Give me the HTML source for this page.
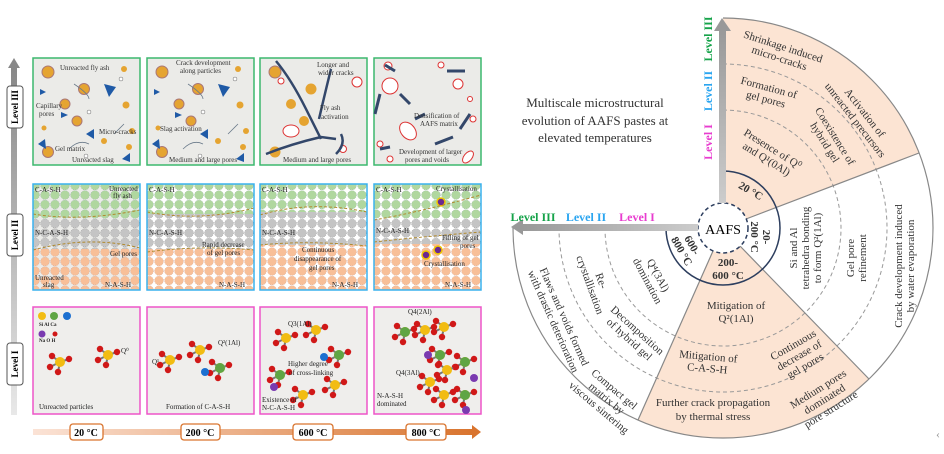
<!DOCTYPE html>
<html><head><meta charset="utf-8"><style>
html,body{margin:0;padding:0;background:#fff;}
svg{display:block;font-family:"Liberation Serif",serif;}
</style></head><body>
<svg width="944" height="454" viewBox="0 0 944 454" xmlns="http://www.w3.org/2000/svg">
<defs>
<pattern id="pg" width="10" height="9.5" patternUnits="userSpaceOnUse"><circle cx="5" cy="5" r="4.4" fill="#b0d79f" stroke="#8a9" stroke-width="0.5" stroke-dasharray="1 1"/></pattern>
<pattern id="pr" width="10" height="9.5" patternUnits="userSpaceOnUse"><circle cx="5" cy="5" r="4.4" fill="#c4c4c4" stroke="#888" stroke-width="0.5" stroke-dasharray="1 1"/></pattern>
<pattern id="po" width="10" height="9.5" patternUnits="userSpaceOnUse"><circle cx="5" cy="5" r="4.4" fill="#f8bf98" stroke="#c98" stroke-width="0.5" stroke-dasharray="1 1"/></pattern>
<linearGradient id="tb" x1="0" x2="1"><stop offset="0" stop-color="#fbe3d6"/><stop offset="1" stop-color="#d9742e"/></linearGradient>
<linearGradient id="va" x1="0" y1="1" x2="0" y2="0"><stop offset="0" stop-color="#e8e8e8"/><stop offset="1" stop-color="#888"/></linearGradient>
<linearGradient id="ua" x1="0" y1="1" x2="0" y2="0"><stop offset="0" stop-color="#ccc"/><stop offset="1" stop-color="#999"/></linearGradient>
<linearGradient id="la" x1="1" x2="0"><stop offset="0" stop-color="#ccc"/><stop offset="1" stop-color="#999"/></linearGradient>
<g id="l3">
<circle cx="14" cy="13" r="6" fill="#e5a431" stroke="#a77"/>
<circle cx="50" cy="30" r="5.5" fill="#e5a431" stroke="#a77"/>
<circle cx="31" cy="45" r="5" fill="#e5a431" stroke="#a77"/>
<circle cx="43" cy="62" r="5" fill="#e5a431" stroke="#a77"/>
<circle cx="14" cy="93" r="5.5" fill="#e5a431" stroke="#a77"/>
<circle cx="90" cy="10" r="3" fill="#e5a431"/><circle cx="92" cy="46" r="3.5" fill="#e5a431"/>
<circle cx="98" cy="72" r="3" fill="#e5a431"/><circle cx="95" cy="88" r="3" fill="#e5a431"/>
<circle cx="10" cy="69" r="2.5" fill="#e5a431"/><circle cx="70" cy="82" r="3" fill="#e5a431"/>
<polygon points="70,25 82,28 75,38" fill="#1f5aa6"/><polygon points="52,75 60,70 60,80" fill="#1f5aa6"/>
<polygon points="27,53 34,56 27,59" fill="#1f5aa6"/><polygon points="4,85 11,80 12,90" fill="#1f5aa6"/>
<polygon points="88,100 96,94 96,103" fill="#1f5aa6"/><polygon points="6,30 12,33 6,36" fill="#1f5aa6"/>
<circle cx="87" cy="20" r="2" fill="#fff" stroke="#666" stroke-width=".5"/><circle cx="55" cy="53" r="2" fill="#fff" stroke="#666" stroke-width=".5"/>
<circle cx="52" cy="97" r="2" fill="#fff" stroke="#666" stroke-width=".5"/>
<path d="M40,25 Q55,35 55,40 M35,90 Q45,80 55,85 M80,75 Q85,70 90,65" stroke="#6a7a8a" stroke-width=".8" fill="none"/>
</g>
<g id="mol">
<line x1="0" y1="0" x2="-8" y2="-6" stroke="#777" stroke-width="2"/><line x1="0" y1="0" x2="9" y2="-3" stroke="#777" stroke-width="2"/>
<line x1="0" y1="0" x2="-2" y2="10" stroke="#777" stroke-width="2"/><line x1="0" y1="0" x2="-10" y2="5" stroke="#777" stroke-width="2"/>
<circle cx="-8" cy="-6" r="3.2" fill="#d01818"/><circle cx="9" cy="-3" r="3.2" fill="#d01818"/>
<circle cx="-2" cy="10" r="3.2" fill="#d01818"/><circle cx="-10" cy="5" r="3.2" fill="#d01818"/>
<circle cx="0" cy="0" r="5" fill="#f2bc12"/>
</g>
<g id="molg"><use href="#mol"/><circle cx="0" cy="0" r="5" fill="#5fa544"/></g>
</defs>

<rect x="11" y="68" width="6" height="347" fill="url(#va)"/>
<polygon points="8,68 14,58 20,68" fill="#888"/>
<g font-size="9" font-weight="bold">
<rect x="7" y="86" width="16" height="42" rx="3" fill="#fff" stroke="#555"/>
<text transform="translate(18,107) rotate(-90)" text-anchor="middle">Level III</text>
<rect x="7" y="214" width="16" height="42" rx="3" fill="#fff" stroke="#555"/>
<text transform="translate(18,235) rotate(-90)" text-anchor="middle">Level II</text>
<rect x="7" y="343" width="16" height="42" rx="3" fill="#fff" stroke="#555"/>
<text transform="translate(18,364) rotate(-90)" text-anchor="middle">Level I</text>
</g>

<g stroke="#3cb86e" stroke-width="1.5" fill="#ebebe8">
<rect x="33" y="58" width="107" height="107"/><rect x="147" y="58" width="107" height="107"/>
<rect x="260" y="58" width="107" height="107"/><rect x="374" y="58" width="107" height="107"/>
</g>
<use href="#l3" x="34" y="59"/><use href="#l3" x="148" y="59"/>
<g transform="translate(261,59)">
<circle cx="14" cy="13" r="6" fill="#e5a431" stroke="#a77"/><circle cx="50" cy="30" r="5.5" fill="#e5a431"/>
<circle cx="43" cy="62" r="5" fill="#e5a431"/><circle cx="14" cy="93" r="5.5" fill="#e5a431"/><circle cx="30" cy="45" r="5" fill="#e5a431"/>
<ellipse cx="30" cy="72" rx="8" ry="6" fill="#fff" stroke="#d33"/><circle cx="96" cy="23" r="5" fill="#fff" stroke="#d33"/>
<circle cx="20" cy="22" r="3" fill="#fff" stroke="#d33"/><circle cx="82" cy="90" r="3.5" fill="#fff" stroke="#d33"/>
<path d="M15,2 Q30,20 45,50 T60,80 M5,95 Q30,85 60,78 L75,80 M70,10 Q65,30 58,60 M80,75 Q85,85 75,95" stroke="#33476a" stroke-width="2.5" fill="none"/>
</g>
<g transform="translate(375,59)" fill="#fff" stroke="#d33">
<circle cx="13" cy="7" r="4"/><circle cx="15" cy="27" r="8"/><circle cx="83" cy="25" r="5"/><circle cx="66" cy="6" r="3"/>
<ellipse cx="33" cy="72" rx="7" ry="10" transform="rotate(-40 33 72)"/><ellipse cx="93" cy="98" rx="4" ry="7" transform="rotate(40 93 98)"/>
<circle cx="5" cy="85" r="3"/><circle cx="15" cy="100" r="3"/><circle cx="98" cy="60" r="3"/><circle cx="95" cy="40" r="2.5"/>
<path d="M5,35 L0,55 M25,35 L35,45 M40,60 L50,55 M60,85 L78,78 M5,90 L15,88 M10,6 L20,12 M72,12 L90,12 M85,70 L95,55" stroke="#33476a" stroke-width="3" fill="none"/>
</g>
<g font-size="7" fill="#333">
<text x="60" y="70">Unreacted fly ash</text><text x="36" y="108">Capillary</text><text x="39" y="116">pores</text>
<text x="99" y="134">Micro-cracks</text><text x="55" y="151">Gel matrix</text><text x="72" y="162">Unreacted slag</text>
<text x="176" y="65">Crack development</text><text x="180" y="73">along particles</text>
<text x="160" y="131">Slag activation</text><text x="169" y="162">Medium and large pores</text>
<text x="317" y="67">Longer and</text><text x="318" y="75">wider cracks</text>
<text x="320" y="110">Fly ash</text><text x="321" y="119">activation</text><text x="283" y="162">Medium and large pores</text>
<text x="414" y="118">Densification of</text><text x="420" y="126">AAFS matrix</text>
<text x="399" y="154">Development of larger</text><text x="405" y="162">pores and voids</text>
</g>

<rect x="33" y="184" width="107" height="106" fill="#ebebe8"/>
<g>
<rect x="33" y="184" width="107" height="35" fill="url(#pg)"/>
<rect x="33" y="219" width="107" height="30" fill="url(#pr)"/>
<rect x="33" y="249" width="107" height="41" fill="url(#po)"/>
</g>
<g transform="translate(114,0)"><rect x="33" y="184" width="107" height="30" fill="url(#pg)"/><rect x="33" y="214" width="107" height="35" fill="url(#pr)"/><rect x="33" y="249" width="107" height="41" fill="url(#po)"/></g>
<g transform="translate(227,0)"><rect x="33" y="184" width="107" height="28" fill="url(#pg)"/><rect x="33" y="212" width="107" height="33" fill="url(#pr)"/><rect x="33" y="245" width="107" height="45" fill="url(#po)"/></g>
<g transform="translate(341,0)"><rect x="33" y="184" width="107" height="35" fill="url(#pg)"/><rect x="33" y="219" width="107" height="25" fill="url(#pr)"/><rect x="33" y="244" width="107" height="46" fill="url(#po)"/>
<circle cx="100" cy="202" r="4" fill="#6b2a8f" stroke="#f0c800" stroke-width="1.5"/><circle cx="85" cy="255" r="4" fill="#6b2a8f" stroke="#f0c800" stroke-width="1.5"/><circle cx="97" cy="250" r="4" fill="#6b2a8f" stroke="#f0c800" stroke-width="1.5"/></g>
<g fill="none" stroke="#b08a30" stroke-width="1" stroke-dasharray="3 2">
<path d="M33,214 Q80,222 140,210 M33,250 Q90,235 140,248"/><path d="M147,212 Q200,222 254,208 M147,252 Q200,245 254,250"/>
<path d="M260,215 Q310,200 367,212 M260,245 Q310,240 367,246"/><path d="M374,220 Q420,212 481,195 M374,242 Q430,236 481,232"/>
</g>
<g fill="none" stroke="#3ab2ee" stroke-width="1.5">
<rect x="33" y="184" width="107" height="106"/><rect x="147" y="184" width="107" height="106"/>
<rect x="260" y="184" width="107" height="106"/><rect x="374" y="184" width="107" height="106"/>
</g>
<g font-size="7" fill="#222">
<text x="35" y="192">C-A-S-H</text><text x="109" y="191">Unreacted</text><text x="113" y="198">fly ash</text>
<text x="35" y="235">N-C-A-S-H</text><text x="110" y="256">Gel pores</text><text x="35" y="280">Unreacted</text><text x="43" y="287">slag</text><text x="105" y="287">N-A-S-H</text>
<text x="149" y="192">C-A-S-H</text><text x="149" y="235">N-C-A-S-H</text><text x="202" y="247">Rapid decrease</text><text x="207" y="255">of gel pores</text><text x="219" y="287">N-A-S-H</text>
<text x="262" y="192">C-A-S-H</text><text x="262" y="235">N-C-A-S-H</text><text x="302" y="252">Continuous</text><text x="294" y="261">disappearance of</text><text x="309" y="270">gel pores</text><text x="332" y="287">N-A-S-H</text>
<text x="376" y="192">C-A-S-H</text><text x="436" y="191">Crystallisation</text><text x="376" y="233">N-C-A-S-H</text><text x="442" y="240">Filling of gel</text><text x="460" y="248">pores</text>
<text x="424" y="266">Crystallisation</text><text x="445" y="287">N-A-S-H</text>
</g>

<g stroke="#ee55c8" stroke-width="1.5" fill="#efeeec">
<rect x="33" y="307" width="107" height="107"/><rect x="147" y="307" width="107" height="107"/>
<rect x="260" y="307" width="107" height="107"/><rect x="374" y="307" width="107" height="107"/>
</g>
<circle cx="42" cy="316" r="4" fill="#f2bc12"/><circle cx="54" cy="316" r="4" fill="#5fa544"/><circle cx="67" cy="316" r="4" fill="#1c6fd0"/>
<circle cx="42" cy="334" r="3.5" fill="#7a3ab0"/><circle cx="55" cy="334" r="2.5" fill="#d01818"/>
<use href="#mol" x="60" y="362"/><use href="#mol" x="108" y="355"/>
<use href="#mol" x="170" y="360"/><use href="#mol" x="200" y="350"/><use href="#molg" x="220" y="368"/><circle cx="205" cy="372" r="4" fill="#1c6fd0"/>
<use href="#mol" x="286" y="338"/><use href="#mol" x="316" y="330"/><use href="#molg" x="339" y="355"/><use href="#molg" x="280" y="375"/><use href="#mol" x="303" y="395"/><use href="#mol" x="335" y="385"/>
<circle cx="324" cy="357" r="4" fill="#1c6fd0"/><circle cx="274" cy="387" r="4" fill="#7a3ab0"/>
<use href="#molg" x="405" y="332"/><use href="#mol" x="425" y="330"/><use href="#mol" x="444" y="327"/><use href="#molg" x="440" y="355"/><use href="#molg" x="465" y="362"/>
<use href="#mol" x="447" y="370"/><use href="#mol" x="430" y="382"/><use href="#molg" x="465" y="395"/><use href="#mol" x="444" y="395"/>
<circle cx="428" cy="355" r="4" fill="#7a3ab0"/><circle cx="474" cy="378" r="4" fill="#7a3ab0"/><circle cx="466" cy="410" r="4" fill="#7a3ab0"/>
<g font-size="7" fill="#222">
<text x="39" y="326" font-size="5" font-weight="bold">Si   Al   Ca</text><text x="39" y="342" font-size="5" font-weight="bold">Na   O    H</text>
<text x="121" y="353">Q⁰</text><text x="39" y="409">Unreacted particles</text>
<text x="152" y="364">Q¹</text><text x="218" y="345">Q²(1Al)</text><text x="166" y="409">Formation of C-A-S-H</text>
<text x="288" y="326">Q3(1Al)</text><text x="288" y="366">Higher degree</text><text x="289" y="375">of cross-linking</text><text x="262" y="402">Existence of</text><text x="262" y="410">N-C-A-S-H</text>
<text x="408" y="314">Q4(2Al)</text><text x="396" y="375">Q4(3Al)</text><text x="377" y="398">N-A-S-H</text><text x="377" y="406">dominated</text>
</g>

<rect x="33" y="429" width="440" height="6" fill="url(#tb)"/>
<polygon points="472,425 481,432 472,439" fill="#d9742e"/>
<g font-size="10" font-weight="bold" text-anchor="middle">
<rect x="70" y="424" width="33" height="16" rx="3" fill="#fff" stroke="#d9742e" stroke-width="1.3"/><text x="86" y="436">20 °C</text>
<rect x="181" y="424" width="39" height="16" rx="3" fill="#fff" stroke="#d9742e" stroke-width="1.3"/><text x="200" y="436">200 °C</text>
<rect x="293" y="424" width="40" height="16" rx="3" fill="#fff" stroke="#d9742e" stroke-width="1.3"/><text x="313" y="436">600 °C</text>
<rect x="406" y="424" width="40" height="16" rx="3" fill="#fff" stroke="#d9742e" stroke-width="1.3"/><text x="426" y="436">800 °C</text>
</g>

<g font-size="13" text-anchor="middle" fill="#333">
<text x="595" y="107">Multiscale microstructural</text>
<text x="595" y="125">evolution of AAFS pastes at</text>
<text x="595" y="142">elevated temperatures</text>
</g>
<path d="M723,228 L723,18 A210,210 0 0 1 919,153 Z" fill="#fce4d3"/>
<path d="M723,228 L869,379 A210,210 0 0 1 638,420 Z" fill="#fce4d3"/>
<path d="M723,18 A210,210 0 1 1 513,228" fill="none" stroke="#888" stroke-width="1.2"/>
<g fill="none" stroke="#999" stroke-dasharray="4 3" stroke-width="1">
<path d="M723,110 A118,118 0 1 1 605,228"/>
<path d="M723,64 A164,164 0 1 1 559,228"/>
</g>
<g stroke="#888" stroke-width="1.2">
<line x1="746" y1="219" x2="919" y2="153"/><line x1="740" y1="246" x2="869" y2="379"/><line x1="713" y1="251" x2="638" y2="420"/>
</g>
<path d="M723,171 A57,57 0 1 1 666,228" fill="none" stroke="#2d3e5e" stroke-width="1.5"/>
<circle cx="723" cy="228" r="25" fill="#fff" stroke="#2d3e5e" stroke-width="1.5" stroke-dasharray="4 3"/>
<text x="723" y="234" font-size="14" text-anchor="middle">AAFS</text>
<rect x="719" y="30" width="7" height="173" fill="url(#ua)"/>
<polygon points="714,31 722,18 731,31" fill="#999"/>
<rect x="522" y="224" width="176" height="7" fill="url(#la)"/>
<polygon points="523,219 511,227 523,235" fill="#999"/>
<g font-size="12" font-weight="bold">
<text transform="translate(712,39) rotate(-90)" text-anchor="middle" fill="#16a34a">Level III</text>
<text transform="translate(712,91) rotate(-90)" text-anchor="middle" fill="#2aa5f0">Level II</text>
<text transform="translate(712,142) rotate(-90)" text-anchor="middle" fill="#e83ccf">Level I</text>
<text x="533" y="221" text-anchor="middle" fill="#16a34a">Level III</text>
<text x="586" y="221" text-anchor="middle" fill="#2aa5f0">Level II</text>
<text x="637" y="221" text-anchor="middle" fill="#e83ccf">Level I</text>
</g>
<g font-size="11" text-anchor="middle" fill="#333">
<text transform="translate(782,50) rotate(18)"><tspan x="0" y="0">Shrinkage induced</tspan><tspan x="0" y="12">micro-cracks</tspan></text>
<text transform="translate(768,91) rotate(15)"><tspan x="0" y="0">Formation of</tspan><tspan x="0" y="12">gel pores</tspan></text>
<text transform="translate(771,152) rotate(32)"><tspan x="0" y="0">Presence of Q⁰</tspan><tspan x="0" y="12">and Q¹(0Al)</tspan></text>
<text transform="translate(862,115) rotate(52)"><tspan x="0" y="0">Activation of</tspan><tspan x="0" y="12">unreacted precursors</tspan></text>
<text transform="translate(832,138) rotate(58)"><tspan x="0" y="0">Coexistence of</tspan><tspan x="0" y="12">hybrid gel</tspan></text>
<text transform="translate(749,194) rotate(30)" font-weight="bold">20 °C</text>
<text transform="translate(763,237) rotate(90)" font-weight="bold"><tspan x="0" y="0">20-</tspan><tspan x="0" y="12">200 °C</tspan></text>
<text transform="translate(797,248) rotate(-90)"><tspan x="0" y="0">Si and Al</tspan><tspan x="0" y="12">tetrahedra bonding</tspan><tspan x="0" y="24">to form Q²(1Al)</tspan></text>
<text transform="translate(854,258) rotate(-90)"><tspan x="0" y="0">Gel pore</tspan><tspan x="0" y="12">refinement</tspan></text>
<text transform="translate(902,266) rotate(-90)"><tspan x="0" y="0">Crack development induced</tspan><tspan x="0" y="12">by water evaporation</tspan></text>
<text x="728" y="266" font-weight="bold"><tspan x="728" y="266">200-</tspan><tspan x="728" y="279">600 °C</tspan></text>
<text x="736" y="309"><tspan x="736" y="309">Mitigation of</tspan><tspan x="736" y="322">Q²(1Al)</tspan></text>
<text transform="translate(795,348) rotate(-30)"><tspan x="0" y="0">Continuous</tspan><tspan x="0" y="12">decrease of</tspan><tspan x="0" y="24">gel pores</tspan></text>
<text transform="translate(708,360) rotate(5)"><tspan x="0" y="0">Mitigation of</tspan><tspan x="0" y="12">C-A-S-H</tspan></text>
<text transform="translate(820,392) rotate(-32)"><tspan x="0" y="0">Medium pores</tspan><tspan x="0" y="12">dominated</tspan><tspan x="0" y="24">pore structure</tspan></text>
<text x="713" y="406"><tspan x="713" y="406">Further crack propagation</tspan><tspan x="713" y="420">by thermal stress</tspan></text>
<text transform="translate(689,247) rotate(60)" font-weight="bold"><tspan x="0" y="0">600-</tspan><tspan x="0" y="12">800 °C</tspan></text>
<text transform="translate(655,277) rotate(62)"><tspan x="0" y="0">Q⁴(3Al)</tspan><tspan x="0" y="12">domination</tspan></text>
<text transform="translate(598,282) rotate(70)"><tspan x="0" y="0">Re-</tspan><tspan x="0" y="12">crystallisation</tspan></text>
<text transform="translate(635,333) rotate(42)"><tspan x="0" y="0">Decomposition</tspan><tspan x="0" y="12">of hybrid gel</tspan></text>
<text transform="translate(561,318) rotate(66)"><tspan x="0" y="0">Flaws and voids formed</tspan><tspan x="0" y="12">with drastic deterioration</tspan></text>
<text transform="translate(612,392) rotate(40)"><tspan x="0" y="0">Compact gel</tspan><tspan x="0" y="12">matrix by</tspan><tspan x="0" y="24">viscous sintering</tspan></text>
</g>
<text x="940" y="438" font-size="12" fill="#999" text-anchor="end">‹</text>
</svg>
</body></html>
